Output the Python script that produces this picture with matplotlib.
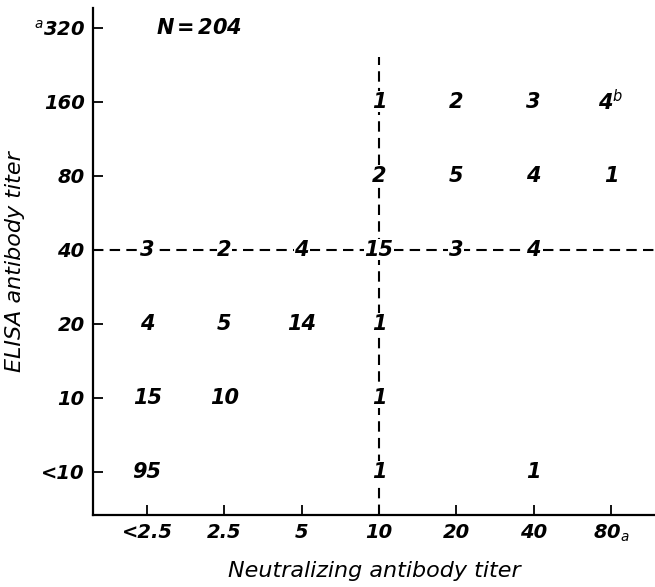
import matplotlib
matplotlib.use("Agg")
import matplotlib.pyplot as plt

# category labels along each axis
NEUT_TITERS = ["<2.5", "2.5", "5", "10", "20", "40", "80$_{a}$"]
ELISA_TITERS = ["<10", "10", "20", "40", "80", "160", "$^{a}$320"]

# cell counts: (neutralizing index, elisa index, label)
CELL_X = [3, 4, 5, 6,
          3, 4, 5, 6,
          0, 1, 2, 3, 4, 5,
          0, 1, 2, 3,
          0, 1, 3,
          0, 3, 5]
CELL_Y = [5, 5, 5, 5,
          4, 4, 4, 4,
          3, 3, 3, 3, 3, 3,
          2, 2, 2, 2,
          1, 1, 1,
          0, 0, 0]
CELL_COUNTS = ["1", "2", "3", "4$^{b}$",
               "2", "5", "4", "1",
               "3", "2", "4", "15", "3", "4",
               "4", "5", "14", "1",
               "15", "10", "1",
               "95", "1", "1"]

N_TOTAL = 204
CUT_NEUT = 3   # index of "10"
CUT_ELISA = 3  # index of "40"

plt.rcParams.update({
    "font.family": "DejaVu Sans",
    "font.style": "italic",
    "mathtext.fontset": "dejavusans",
})

fig = plt.figure(figsize=(6.55, 5.87), dpi=100)
ax = fig.add_axes([0.142, 0.123, 0.858, 0.864])

ax.set_xlim(-0.70, 6.57)
ax.set_ylim(-0.58, 6.27)

for side in ("top", "right"):
    ax.spines[side].set_visible(False)
for side in ("left", "bottom"):
    ax.spines[side].set_linewidth(1.6)

ax.set_xticks(range(len(NEUT_TITERS)), NEUT_TITERS)
ax.set_yticks(range(len(ELISA_TITERS)), ELISA_TITERS)
ax.tick_params(direction="in", length=7, width=1.3, labelsize=14, pad=6)
for lab in ax.get_xticklabels() + ax.get_yticklabels():
    lab.set_fontstyle("italic")
    lab.set_fontweight("bold")

# cut-off lines
ax.axhline(CUT_ELISA, color="black", lw=1.5, ls=(0, (5, 3)), zorder=1)
ax.plot([CUT_NEUT, CUT_NEUT], [-0.58, 5.6], color="black", lw=1.5,
        ls=(0, (5, 3)), zorder=1, clip_on=False)

for x, y, s in zip(CELL_X, CELL_Y, CELL_COUNTS):
    on_line = (y == CUT_ELISA) or (x == CUT_NEUT)
    ax.text(x, y, s, ha="center", va="center", fontsize=15, style="italic",
            fontweight="bold", zorder=3,
            bbox=dict(facecolor="white", edgecolor="none", pad=0.5) if on_line else None)

ax.text(0.11, 6.0, f"N$\\,$=$\\,${N_TOTAL}", fontsize=15, style="italic",
        fontweight="bold", ha="left", va="center")

ax.set_xlabel("Neutralizing antibody titer", fontsize=16, style="italic", labelpad=12)
ax.set_ylabel("ELISA antibody titer", fontsize=16, style="italic", labelpad=6)

fig.savefig("out.png", dpi=100)
